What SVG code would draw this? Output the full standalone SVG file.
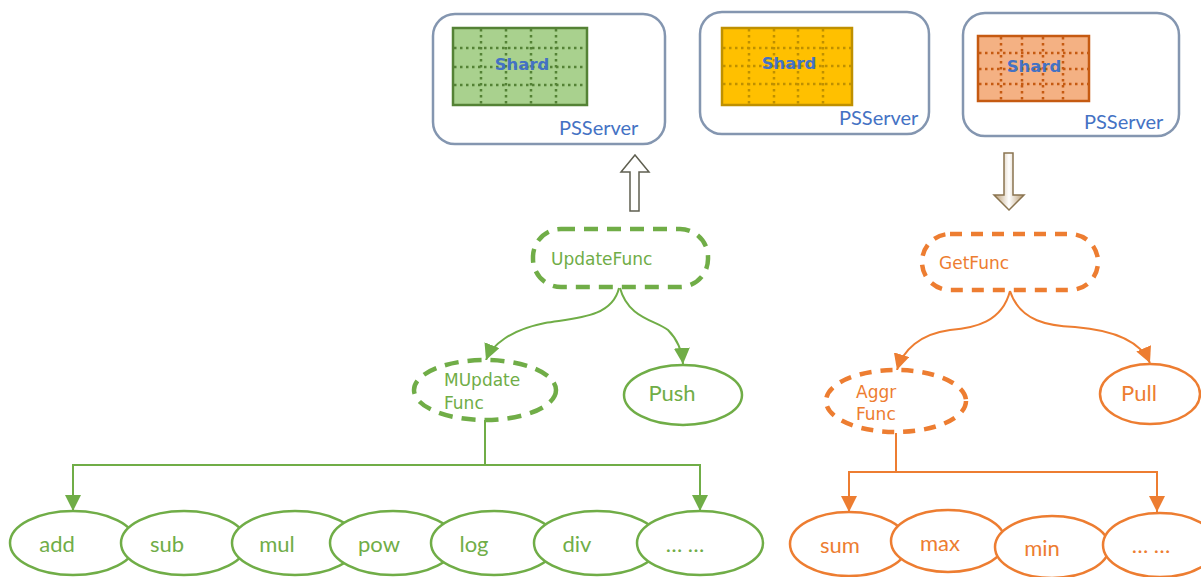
<svg xmlns="http://www.w3.org/2000/svg" width="1201" height="577" viewBox="0 0 1201 577">
<style>
.server{fill:#fff;stroke:#8496b0;stroke-width:2.5}
.grid{stroke-width:2.5;stroke-dasharray:2.5 3.5;fill:none}
.shardtxt{font-family:"DejaVu Sans",sans-serif;font-weight:bold;font-size:16.5px;fill:#4472c4;text-anchor:middle}
.pstxt{font-family:Lato,"Liberation Sans",sans-serif;font-size:20px;fill:#4472c4}
.comic{font-family:"DejaVu Sans",sans-serif;font-size:17px}
.cal{font-family:Lato,"Liberation Sans",sans-serif;font-size:22px;text-anchor:middle}
.g{fill:#70ad47}
.o{fill:#ed7d31}
.gdash{fill:#fff;stroke:#70ad47;stroke-width:4.5;stroke-dasharray:14 9}
.odash{fill:#fff;stroke:#ed7d31;stroke-width:4.5;stroke-dasharray:12 9}
.gsol{fill:#fff;stroke:#70ad47;stroke-width:2.5}
.osol{fill:#fff;stroke:#ed7d31;stroke-width:2.5}
.gline{fill:none;stroke:#70ad47;stroke-width:2}
.oline{fill:none;stroke:#ed7d31;stroke-width:2}
</style>
<defs>
<marker id="ag" markerUnits="userSpaceOnUse" markerWidth="16" markerHeight="16" viewBox="0 0 16 16" refX="16" refY="8" orient="auto"><path d="M0,0 L16,8 L0,16 Z" fill="#70ad47"/></marker>
<marker id="ao" markerUnits="userSpaceOnUse" markerWidth="16" markerHeight="16" viewBox="0 0 16 16" refX="16" refY="8" orient="auto"><path d="M0,0 L16,8 L0,16 Z" fill="#ed7d31"/></marker>
<linearGradient id="shaftg" x1="0" y1="0" x2="1" y2="0"><stop offset="0" stop-color="#b89a70"/><stop offset="0.5" stop-color="#fff"/><stop offset="1" stop-color="#b89a70"/></linearGradient>
</defs>

<g id="psserver1">
<rect class="server" x="433" y="14" width="232" height="130" rx="22"/>
<rect x="453" y="28" width="134" height="77" fill="#a9d18e" stroke="#548235" stroke-width="2.5"/>
<g class="grid" stroke="#548235">
<path d="M481,29V104M506,29V104M531,29V104M556,29V104M454,48H586M454,67H586M454,85H586"/>
</g>
<text class="shardtxt" x="522" y="70">Shard</text>
<text class="pstxt" x="559" y="135">PSServer</text>
</g>

<g id="psserver2">
<rect class="server" x="700" y="12" width="229" height="122" rx="22"/>
<rect x="722" y="28" width="130" height="77" fill="#ffc000" stroke="#bf9000" stroke-width="2.5"/>
<g class="grid" stroke="#bf9000">
<path d="M749,29V104M774,29V104M798,29V104M823,29V104M723,48H851M723,66H851M723,84H851"/>
</g>
<text class="shardtxt" x="789" y="69">Shard</text>
<text class="pstxt" x="839" y="125">PSServer</text>
</g>

<g id="psserver3">
<rect class="server" x="963" y="13" width="216" height="123" rx="22"/>
<rect x="978" y="36" width="111" height="65" fill="#f4b183" stroke="#c55a11" stroke-width="2.5"/>
<g class="grid" stroke="#c55a11">
<path d="M1001,37V100M1022,37V100M1043,37V100M1063,37V100M979,53H1088M979,69H1088M979,84H1088"/>
</g>
<text class="shardtxt" x="1034" y="72">Shard</text>
<text class="pstxt" x="1084" y="129">PSServer</text>
</g>

<g id="uparrow">
<polygon points="635,155 649,172 639,172 639,211 630,211 630,172 621,172" fill="#fff" stroke="#5f5f50" stroke-width="1.5"/>
</g>
<g id="downarrow">
<polygon points="1004,153 1013,153 1013,195 1024,195 1009,210 994,195 1004,195" fill="url(#shaftg)" stroke="#8a7450" stroke-width="1.5"/>
</g>

<g id="connectors">
<path class="gline" d="M619,288 C612,318 575,318 545,323 C510,330 492,345 486,360" marker-end="url(#ag)"/>
<path class="gline" d="M620,288 C628,318 655,320 668,330 C678,340 682,350 683,364" marker-end="url(#ag)"/>
<path class="oline" d="M1010,291 C1002,322 975,328 950,330 C920,334 903,350 897,370" marker-end="url(#ao)"/>
<path class="oline" d="M1010,291 C1020,322 1050,326 1075,327 C1112,330 1140,340 1150,363" marker-end="url(#ao)"/>
<path class="gline" d="M485,420 V465 H73 V511" marker-end="url(#ag)"/>
<path class="gline" d="M485,465 H700 V511" marker-end="url(#ag)"/>
<path class="oline" d="M896,433 V472 H849 V512" marker-end="url(#ao)"/>
<path class="oline" d="M896,472 H1157 V512" marker-end="url(#ao)"/>
</g>

<g id="updatefunc">
<rect class="gdash" x="533" y="229" width="175" height="58" rx="28"/>
<text class="comic g" x="551" y="265">UpdateFunc</text>
</g>
<g id="getfunc">
<rect class="odash" x="922" y="234" width="176" height="56" rx="28"/>
<text class="comic o" x="939" y="269">GetFunc</text>
</g>
<g id="mupdatefunc">
<ellipse class="gdash" cx="485" cy="390" rx="71" ry="30"/>
<text class="comic g" x="444" y="386">MUpdate</text>
<text class="comic g" x="444" y="409">Func</text>
</g>
<g id="push">
<ellipse class="gsol" cx="683" cy="395" rx="59" ry="30"/>
<text class="cal g" x="672" y="401">Push</text>
</g>
<g id="aggrfunc">
<ellipse class="odash" cx="896" cy="401" rx="70" ry="31"/>
<text class="comic o" x="856" y="398">Aggr</text>
<text class="comic o" x="856" y="420">Func</text>
</g>
<g id="pull">
<ellipse class="osol" cx="1150" cy="394" rx="50" ry="30"/>
<text class="cal o" x="1139" y="401">Pull</text>
</g>

<g id="add"><ellipse class="gsol" cx="73" cy="543" rx="63" ry="32"/><text class="cal g" x="57" y="552">add</text></g>
<g id="sub"><ellipse class="gsol" cx="184" cy="543" rx="63" ry="32"/><text class="cal g" x="167" y="552">sub</text></g>
<g id="mul"><ellipse class="gsol" cx="295" cy="543" rx="63" ry="32"/><text class="cal g" x="277" y="552">mul</text></g>
<g id="pow"><ellipse class="gsol" cx="393" cy="543" rx="63" ry="32"/><text class="cal g" x="379" y="552">pow</text></g>
<g id="log"><ellipse class="gsol" cx="494" cy="543" rx="63" ry="32"/><text class="cal g" x="474" y="552">log</text></g>
<g id="div"><ellipse class="gsol" cx="597" cy="543" rx="63" ry="32"/><text class="cal g" x="577" y="552">div</text></g>
<g id="gmore"><ellipse class="gsol" cx="700" cy="543" rx="63" ry="32"/><text class="cal g" x="685" y="552">… …</text></g>

<g id="sum"><ellipse class="osol" cx="849" cy="544" rx="59" ry="32"/><text class="cal o" x="840" y="553">sum</text></g>
<g id="max"><ellipse class="osol" cx="948" cy="541" rx="57" ry="31"/><text class="cal o" x="940" y="551">max</text></g>
<g id="min"><ellipse class="osol" cx="1052" cy="547" rx="57" ry="31"/><text class="cal o" x="1042" y="556">min</text></g>
<g id="omore"><ellipse class="osol" cx="1160" cy="545" rx="57" ry="32"/><text class="cal o" x="1151" y="553">… …</text></g>
</svg>
